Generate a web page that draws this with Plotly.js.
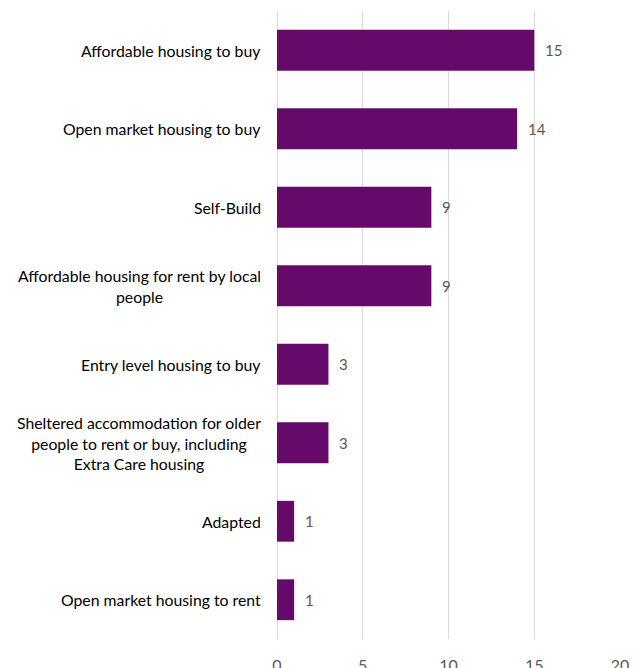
<!DOCTYPE html>
<html>
<head>
<meta charset="utf-8">
<script src="https://cdn.plot.ly/plotly-3.0.1.min.js"></script>
<style>html,body{margin:0;padding:0;background:#fff;}#chart{width:639px;height:668px;}</style>
</head>
<body>
<div id="chart"></div>
<script>
const categories = [
  "Affordable housing to buy",
  "Open market housing to buy",
  "Self-Build",
  "Affordable housing for rent by local<br>people",
  "Entry level housing to buy",
  "Sheltered accommodation for older<br>people to rent or buy, including<br>Extra Care housing",
  "Adapted",
  "Open market housing to rent"
];
const values = [15, 14, 9, 9, 3, 3, 1, 1];
const xTicks = [0, 5, 10, 15, 20];

const FONT = "Lato, 'Open Sans', sans-serif";

const trace = {
  type: "bar",
  orientation: "h",
  x: values,
  y: categories,
  marker: {color: "#650a6b"},
  hoverinfo: "none"
};

const annotations = [];
categories.forEach((c, i) => {
  annotations.push({
    xref: "paper", yref: "y", x: 0, y: c, xanchor: "right", yanchor: "middle",
    xshift: -14, text: c, showarrow: false, align: "center",
    font: {family: FONT, size: 15.8, color: "#000000"}
  });
  annotations.push({
    xref: "x", yref: "y", x: values[i], y: c, xanchor: "left", yanchor: "middle",
    xshift: 9, text: String(values[i]), showarrow: false,
    font: {family: FONT, size: 15, color: "#595959"}
  });
});

const layout = {
  width: 639, height: 668,
  margin: {l: 277, r: 19, t: 11, b: 29},
  paper_bgcolor: "#ffffff", plot_bgcolor: "#ffffff",
  showlegend: false,
  bargap: 0.48,
  xaxis: {
    range: [0, 20], tickvals: xTicks, ticktext: xTicks.map(String),
    showgrid: true, gridcolor: "#d9d9d9", gridwidth: 1,
    zeroline: true, zerolinecolor: "#d9d9d9", zerolinewidth: 1,
    showline: false, ticks: "",
    ticklabelstandoff: 15,
    tickfont: {family: FONT, size: 16, color: "#595959"}, fixedrange: true
  },
  yaxis: {
    type: "category", categoryorder: "array", categoryarray: categories,
    autorange: "reversed", showticklabels: false, showgrid: false,
    zeroline: false, showline: false, ticks: "", fixedrange: true
  },
  annotations: annotations
};

Plotly.newPlot("chart", [trace], layout, {displayModeBar: false, staticPlot: true});
</script>
</body>
</html>
